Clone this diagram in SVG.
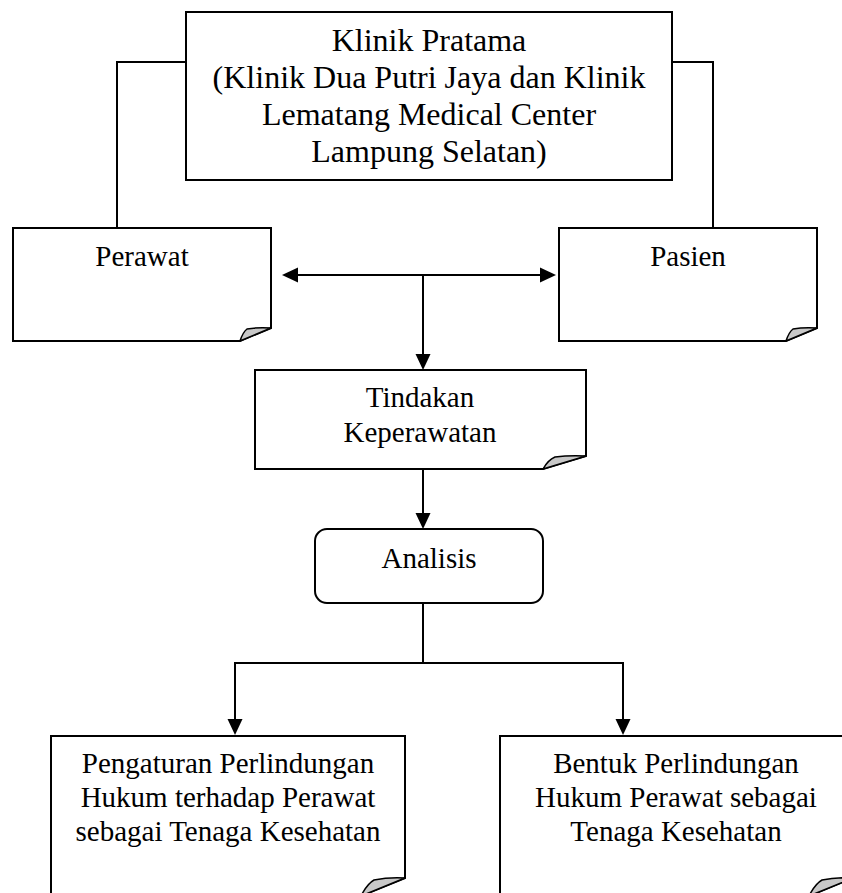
<svg xmlns="http://www.w3.org/2000/svg" width="842" height="893" viewBox="0 0 842 893">
<style>
.box{fill:#fff;stroke:#000;stroke-width:2;stroke-linejoin:miter}
.curl{fill:#c8c8c8;stroke:#000;stroke-width:1.5;stroke-linejoin:round}
.t{font-family:"Liberation Serif","Times New Roman",serif;font-size:29px;fill:#000;text-anchor:middle}
.tb{font-size:32px}
.c{fill:none;stroke:#000;stroke-width:2}
</style>
<defs>
<marker id="ah" markerUnits="userSpaceOnUse" markerWidth="16" markerHeight="16" viewBox="0 0 16 16" refX="12" refY="8" orient="auto-start-reverse">
<path d="M0,0.5 L16,8 L0,15.5 Z" fill="#000"/>
</marker>
</defs>
<rect width="842" height="893" fill="#fff"/>

<g id="connectors">
<polyline class="c" points="186,62 117,62 117,228"/>
<polyline class="c" points="672,62 713,62 713,228"/>
<line class="c" x1="286" y1="275" x2="552" y2="275" marker-start="url(#ah)" marker-end="url(#ah)"/>
<line class="c" x1="423" y1="275" x2="423" y2="366" marker-end="url(#ah)"/>
<line class="c" x1="423" y1="469" x2="423" y2="525" marker-end="url(#ah)"/>
<line class="c" x1="423" y1="603" x2="423" y2="663"/>
<polyline class="c" points="235,731 235,663 623,663 623,731" marker-start="url(#ah)" marker-end="url(#ah)"/>
</g>

<g id="klinik">
<rect class="box" x="186" y="12" width="486" height="168"/>
<text class="t tb" x="429" y="51">Klinik Pratama</text>
<text class="t tb" x="429" y="88">(Klinik Dua Putri Jaya dan Klinik</text>
<text class="t tb" x="429" y="125">Lematang Medical Center</text>
<text class="t tb" x="429" y="162">Lampung Selatan)</text>
</g>

<g id="perawat">
<path class="box" d="M13,228 H271 V328 L240,341 H13 Z"/>
<path class="curl" d="M240,341 Q243,332 247,329 Q258,327 271,328 Z"/>
<text class="t" x="142" y="266">Perawat</text>
</g>

<g id="pasien">
<path class="box" d="M559,228 H817 V328 L786,341 H559 Z"/>
<path class="curl" d="M786,341 Q789,332 793,329 Q804,327 817,328 Z"/>
<text class="t" x="688" y="266">Pasien</text>
</g>

<g id="tindakan">
<path class="box" d="M255,370 H586 V456 L543,469 H255 Z"/>
<path class="curl" d="M543,469 Q548,460 555,457 Q570,455 586,456 Z"/>
<text class="t" x="420" y="407">Tindakan</text>
<text class="t" x="420" y="442">Keperawatan</text>
</g>

<g id="analisis">
<rect class="box" x="315" y="529" width="228" height="74" rx="12" ry="12"/>
<text class="t" x="429" y="568">Analisis</text>
</g>

<g id="pengaturan">
<path class="box" d="M51,736 H405 V878 L361,896 H51 Z"/>
<path class="curl" d="M361,896 Q367,884 374,880 Q389,877 405,878 Z"/>
<text class="t" x="228" y="773">Pengaturan Perlindungan</text>
<text class="t" x="228" y="807">Hukum terhadap Perawat</text>
<text class="t" x="228" y="841">sebagai Tenaga Kesehatan</text>
</g>

<g id="bentuk">
<path class="box" d="M500,736 H853 V878 L809,896 H500 Z"/>
<path class="curl" d="M809,896 Q815,884 822,880 Q837,877 853,878 Z"/>
<text class="t" x="676" y="773">Bentuk Perlindungan</text>
<text class="t" x="676" y="807">Hukum Perawat sebagai</text>
<text class="t" x="676" y="841">Tenaga Kesehatan</text>
</g>
</svg>
